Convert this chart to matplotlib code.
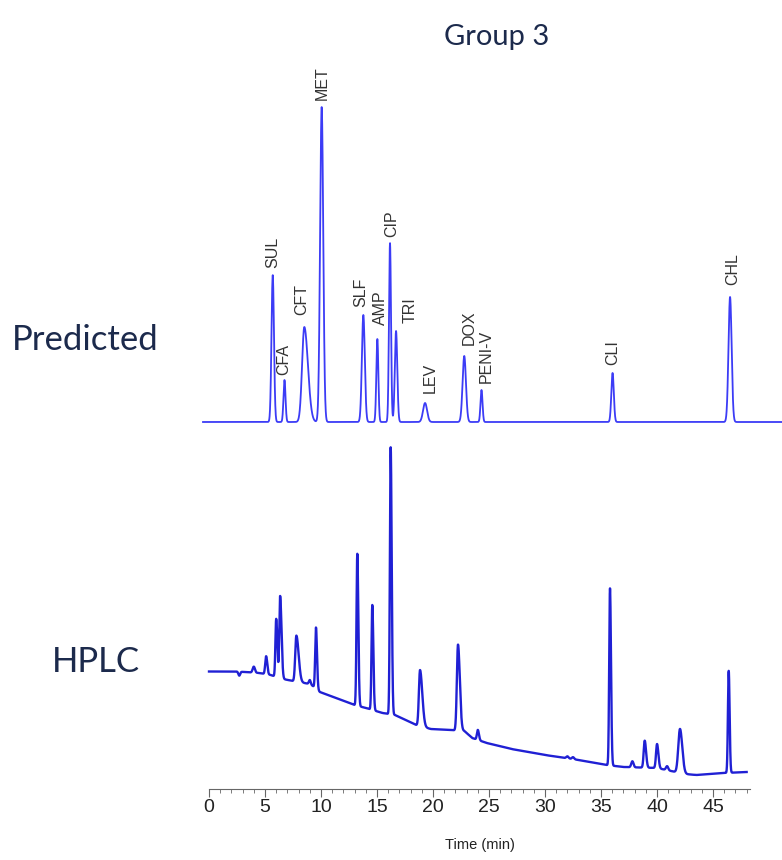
import numpy as np
import matplotlib
matplotlib.use("Agg")
import matplotlib.pyplot as plt
from matplotlib.ticker import MultipleLocator

# ---------------- data ----------------
# Predicted chromatogram: peak names, retention times (min), heights (a.u.), widths (min)
pred_names = ["SUL", "CFA", "CFT", "MET", "SLF", "AMP", "CIP", "TRI", "LEV",
              "DOX", "PENI-V", "CLI", "CHL"]
pred_times = [5.69, 6.74, 8.51, 10.06, 13.78, 15.03, 16.16, 16.70, 19.29,
              22.79, 24.33, 36.03, 46.52]
pred_heights = [147, 42, 95, 315, 107, 83, 179, 91, 19, 66, 32, 49, 125]
pred_sigma_left = [0.11, 0.09, 0.20, 0.14, 0.13, 0.09, 0.09, 0.11, 0.18,
                   0.15, 0.09, 0.11, 0.14]
pred_sigma_right = [0.11, 0.09, 0.32, 0.14, 0.13, 0.09, 0.09, 0.11, 0.18,
                    0.15, 0.09, 0.11, 0.14]

# HPLC chromatogram: drifting baseline + peaks
hplc_base_t = [0, 2.5, 4.5, 5.5, 6.6, 7.5, 9.0, 9.4, 9.9, 13, 14, 15.5, 16.6,
               18.5, 19.8, 21.5, 22.8, 23.5, 24.8, 27, 30, 33, 35.5, 37, 40,
               42.5, 43.5, 46, 48]
hplc_base_v = [117.5, 117.5, 116, 114, 110, 108, 105, 102, 97, 84, 81, 76, 74,
               64, 60, 59, 58, 51, 46, 40, 34, 29, 24, 22, 21, 15, 14, 16, 17]
hplc_peak_t = [2.7, 4.0, 5.1, 6.0, 6.35, 7.8, 9.0, 9.55, 13.24, 14.58, 16.22,
               18.84, 22.23, 24.0, 32.0, 32.5, 35.8, 37.8, 38.9, 40.0, 40.9,
               42.05, 46.4]
hplc_peak_h = [-4, 6, 18, 58, 82, 46, 4, 61, 152, 105, 267, 56, 86, 10, 2, 2,
               177, 6, 27, 24, 4, 44, 102]
hplc_peak_sl = [0.08, 0.1, 0.08, 0.07, 0.07, 0.1, 0.08, 0.07, 0.07, 0.07, 0.07,
                0.1, 0.1, 0.08, 0.1, 0.1, 0.07, 0.1, 0.09, 0.09, 0.1, 0.15,
                0.07]
hplc_peak_sr = [0.08, 0.1, 0.1, 0.1, 0.12, 0.2, 0.08, 0.09, 0.09, 0.09, 0.09,
                0.2, 0.16, 0.1, 0.1, 0.1, 0.09, 0.1, 0.12, 0.12, 0.1, 0.2,
                0.08]

tick_values = [0, 5, 10, 15, 20, 25, 30, 35, 40, 45]

# ---------------- label placement (pixels) ----------------
label_dx = {"SUL": 0, "CFA": -1, "CFT": -3, "MET": 1, "SLF": -3, "AMP": 3,
            "CIP": 2, "TRI": 14, "LEV": 5, "DOX": 5, "PENI-V": 5, "CLI": 0,
            "CHL": 3}
label_dy = {"SUL": 7, "CFA": 5, "CFT": 12, "MET": 7, "SLF": 8, "AMP": 14,
            "CIP": 6, "TRI": 8, "LEV": 10, "DOX": 11, "PENI-V": 7, "CLI": 8,
            "CHL": 12}


def peaks(t, centers, heights, sl, sr):
    y = np.zeros_like(t)
    for c, h, a, b in zip(centers, heights, sl, sr):
        s = np.where(t < c, a, b)
        y += h * np.exp(-0.5 * ((t - c) / s) ** 2)
    return y


W, H = 782, 860
fig = plt.figure(figsize=(W / 100, H / 100), dpi=100)

x0, x1 = 209, 750          # pixel extent of the time axis
xlim = (0, 48.3)
px_per_min = (x1 - x0) / (xlim[1] - xlim[0])

# HPLC axes
hb, ht = 789, 430
ax_h = fig.add_axes([x0 / W, (H - hb) / H, (x1 - x0) / W, (hb - ht) / H])
# Predicted axes
pb, pt = 422, 100
ax_p = fig.add_axes([x0 / W, (H - pb) / H, (x1 - x0) / W, (pb - pt) / H])

line_color_p = "#3c3cf6"
line_color_h = "#2020d4"

# predicted trace
tp = np.linspace(xlim[0] - 6 / px_per_min, xlim[0] + (W - x0) / px_per_min, 6000)
yp = peaks(tp, pred_times, pred_heights, pred_sigma_left, pred_sigma_right)
ax_p.plot(tp, yp, color=line_color_p, lw=1.3, clip_on=False)
ax_p.set_xlim(*xlim)
ax_p.set_ylim(0, pb - pt)
ax_p.axis("off")

for name, t0, h0 in zip(pred_names, pred_times, pred_heights):
    ax_p.annotate(name, xy=(t0, h0), xytext=(label_dx[name], label_dy[name]),
                  textcoords="offset pixels", rotation=90, ha="center",
                  va="bottom", fontsize=11.5, color="#333333",
                  family="Liberation Sans")

# HPLC trace
th = np.linspace(0, 48, 8000)
yh = np.interp(th, hplc_base_t, hplc_base_v) + peaks(
    th, hplc_peak_t, hplc_peak_h, hplc_peak_sl, hplc_peak_sr)
ax_h.plot(th, yh, color=line_color_h, lw=1.7, clip_on=False)
ax_h.set_xlim(*xlim)
ax_h.set_ylim(0, hb - ht)
for s in ["top", "left", "right"]:
    ax_h.spines[s].set_visible(False)
ax_h.spines["bottom"].set_color("#666666")
ax_h.spines["bottom"].set_linewidth(0.8)
ax_h.set_yticks([])
ax_h.set_xticks(tick_values)
ax_h.xaxis.set_minor_locator(MultipleLocator(1))
ax_h.tick_params(axis="x", which="major", length=6, width=0.8, color="#666666",
                 labelsize=14, labelcolor="#222222", pad=1)
ax_h.tick_params(axis="x", which="minor", length=3, width=0.6, color="#666666")
for lab in ax_h.get_xticklabels():
    lab.set_family("Liberation Sans")
ax_h.set_xlabel("Time (min)", fontsize=10.5, family="Liberation Sans",
                color="#222222", labelpad=16)

navy = "#1c2a4c"
fig.text(497 / W, 1 - 37 / H, "Group 3", ha="center", va="center",
         fontsize=21, color=navy, family="Lato")
fig.text(12 / W, 1 - 340 / H, "Predicted", ha="left", va="center",
         fontsize=25, color=navy, family="Lato")
fig.text(52 / W, 1 - 662 / H, "HPLC", ha="left", va="center",
         fontsize=25, color=navy, family="Lato")

fig.savefig("out.png", dpi=100, facecolor="white")
